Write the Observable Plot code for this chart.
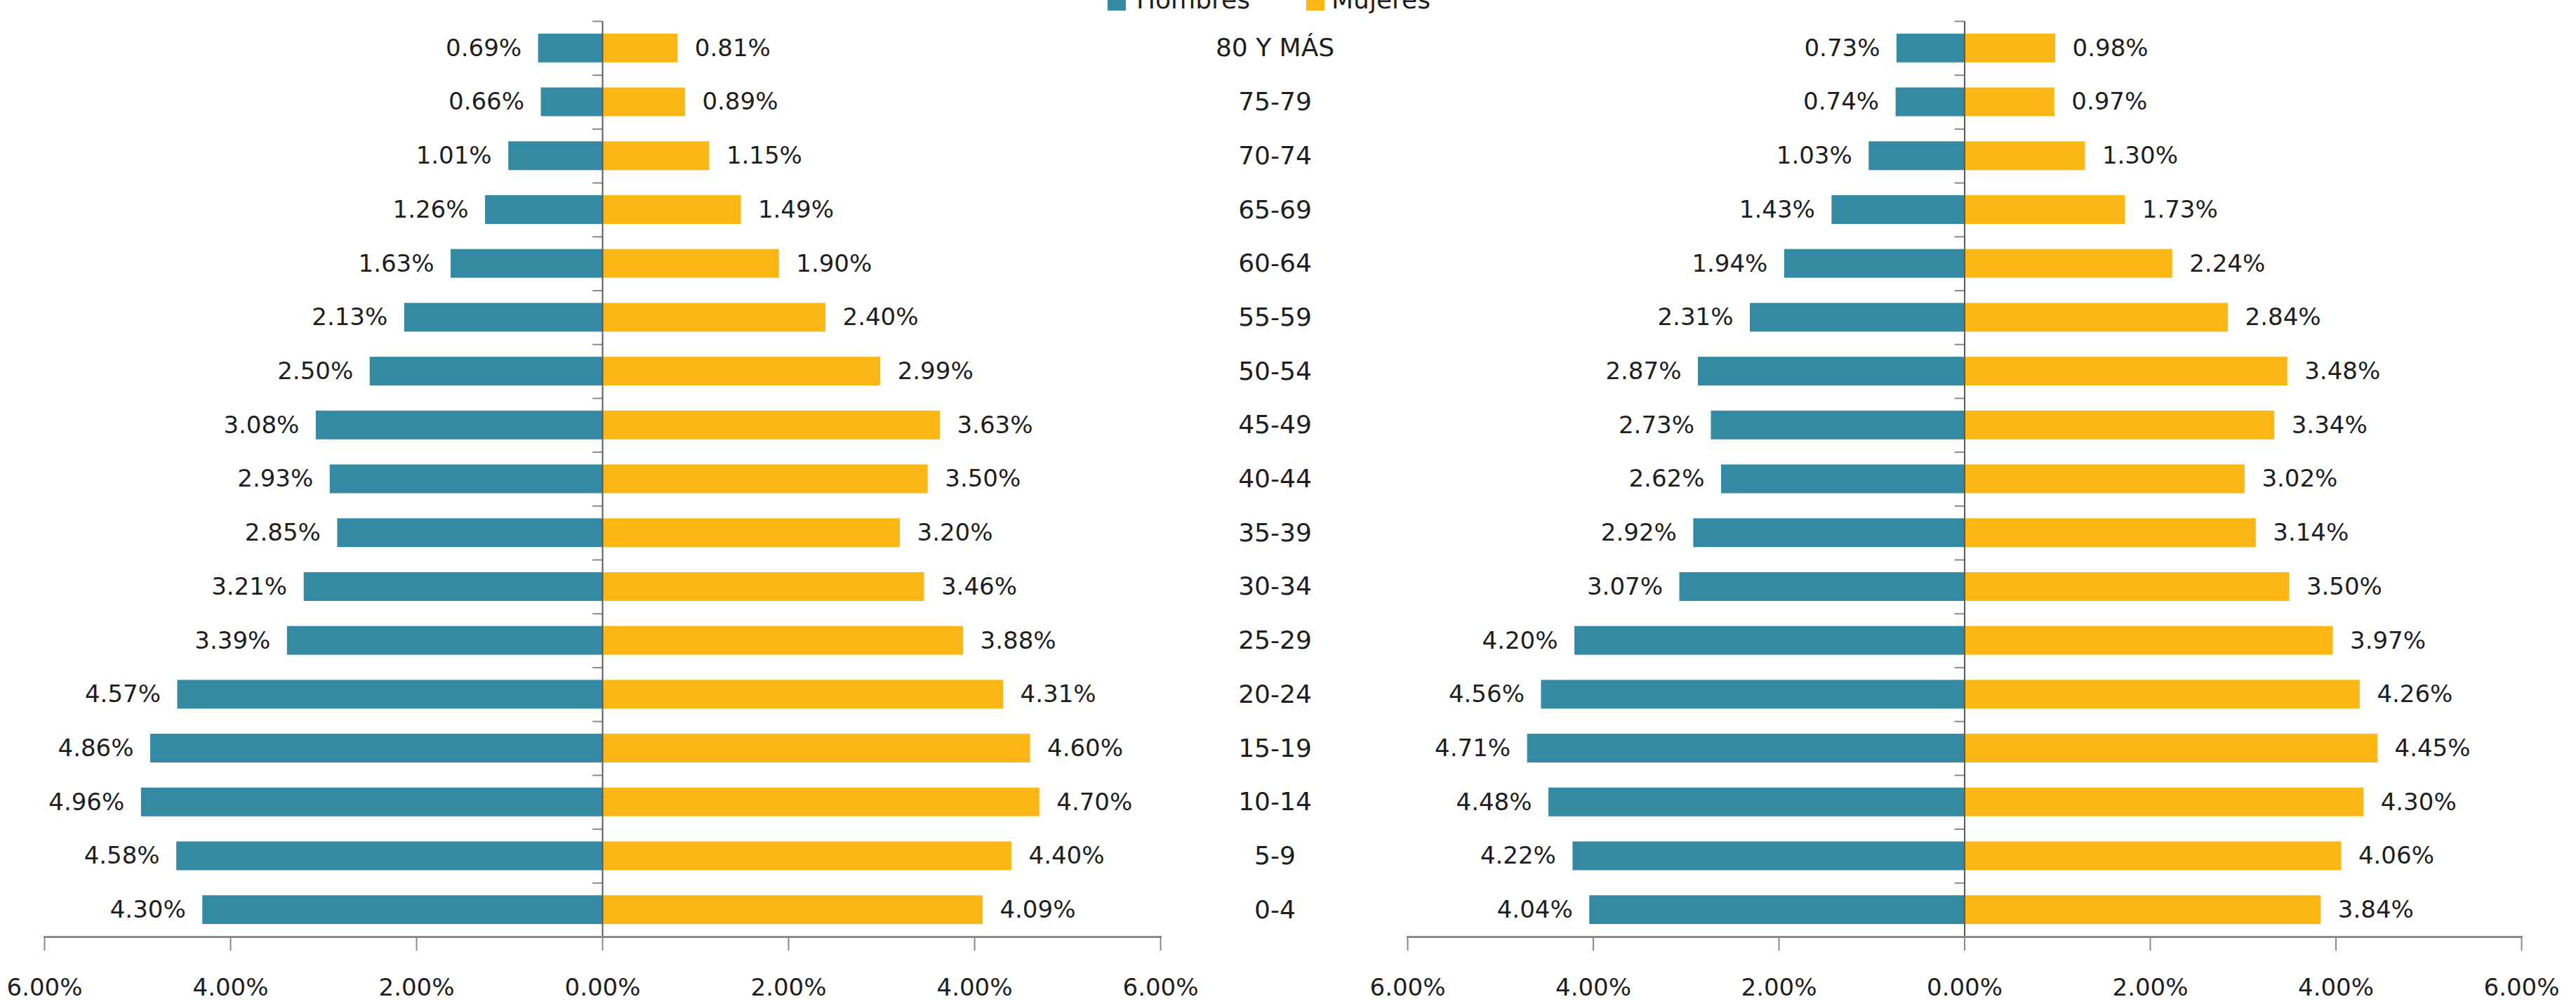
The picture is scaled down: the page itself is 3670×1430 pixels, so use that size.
<!DOCTYPE html>
<html>
<head>
<meta charset="utf-8">
<script src="https://cdn.jsdelivr.net/npm/d3@7"></script>
<script src="https://cdn.jsdelivr.net/npm/@observablehq/plot@0.6"></script>
<style>
  html, body { margin: 0; padding: 0; background: #ffffff; }
  #wrap { position: relative; width: 3670px; height: 1430px; overflow: hidden; background: #ffffff;
          font-family: "DejaVu Sans", sans-serif; color: #1e1e1e; }
  #wrap svg { position: absolute; top: 0; overflow: visible; max-width: none; }
  .lg-swatch { position: absolute; width: 26px; height: 26px; top: -11px; }
  .lg-label { position: absolute; top: -18px; font-size: 36px; line-height: 36px; white-space: nowrap; color: #1e1e1e; }
</style>
</head>
<body>
<div id="wrap"></div>
<script>
// ---- data ----
const ageGroups = ["80 Y MÁS", "75-79", "70-74", "65-69", "60-64", "55-59", "50-54", "45-49",
                   "40-44", "35-39", "30-34", "25-29", "20-24", "15-19", "10-14", "5-9", "0-4"];
const hombresIzq = [0.69, 0.66, 1.01, 1.26, 1.63, 2.13, 2.50, 3.08, 2.93, 2.85, 3.21, 3.39, 4.57, 4.86, 4.96, 4.58, 4.30];
const mujeresIzq = [0.81, 0.89, 1.15, 1.49, 1.90, 2.40, 2.99, 3.63, 3.50, 3.20, 3.46, 3.88, 4.31, 4.60, 4.70, 4.40, 4.09];
const hombresDer = [0.73, 0.74, 1.03, 1.43, 1.94, 2.31, 2.87, 2.73, 2.62, 2.92, 3.07, 4.20, 4.56, 4.71, 4.48, 4.22, 4.04];
const mujeresDer = [0.98, 0.97, 1.30, 1.73, 2.24, 2.84, 3.48, 3.34, 3.02, 3.14, 3.50, 3.97, 4.26, 4.45, 4.30, 4.06, 3.84];
const xTicks = [-6, -4, -2, 0, 2, 4, 6];
const seriesNames = ["Hombres", "Mujeres"];
const seriesColors = ["#358aa3", "#fdb714"];

const fmtPct = v => Math.abs(v).toFixed(2) + "%";

function pyramid({hombres, mujeres, width, marginLeft, marginRight, showCategories}) {
  const rows = ageGroups.flatMap((age, i) => [
    {age, sex: "Hombres", value: -hombres[i]},
    {age, sex: "Mujeres", value: mujeres[i]}
  ]);
  const marks = [
    Plot.barX(rows, {y: "age", x: "value", fill: "sex"}),
    Plot.ruleY(ageGroups, {y: d => d, x1: -0.105, x2: 0, dy: -38.4, stroke: "#8a8a8a", strokeWidth: 2}),
    Plot.ruleX([0], {stroke: "#5a5a5a", strokeWidth: 2}),
    Plot.frame({anchor: "bottom", stroke: "#8a8a8a", strokeWidth: 3}),
    Plot.axisX({ticks: xTicks, tickSize: 20, text: null, label: null, stroke: "#8a8a8a", strokeWidth: 2}),
    Plot.axisX({ticks: xTicks, tickSize: 0, tickPadding: 59, tickFormat: fmtPct, label: null, fontSize: 34, fill: "#1e1e1e"}),
    Plot.text(rows.filter(d => d.sex === "Hombres"), {y: "age", x: "value", text: d => fmtPct(d.value),
      textAnchor: "end", dx: -24, fontSize: 34, fill: "#1e1e1e"}),
    Plot.text(rows.filter(d => d.sex === "Mujeres"), {y: "age", x: "value", text: d => fmtPct(d.value),
      textAnchor: "start", dx: 24, fontSize: 34, fill: "#1e1e1e"})
  ];
  if (showCategories) {
    marks.push(Plot.text(ageGroups, {y: d => d, text: d => d, frameAnchor: "right", dx: 163,
      textAnchor: "middle", fontSize: 36, fill: "#1e1e1e"}));
  }
  return Plot.plot({
    width, height: 1430,
    marginLeft, marginRight, marginTop: 30, marginBottom: 96,
    style: {fontFamily: "DejaVu Sans, sans-serif", background: "transparent", overflow: "visible"},
    x: {domain: [-6, 6], axis: null, label: null},
    y: {domain: ageGroups, paddingInner: 0.466, paddingOuter: 0.233, round: false, axis: null, label: null},
    color: {domain: seriesNames, range: seriesColors},
    marks
  });
}

const wrap = document.getElementById("wrap");

const left = pyramid({hombres: hombresIzq, mujeres: mujeresIzq, width: 1950, marginLeft: 63, marginRight: 297, showCategories: true});
left.style.left = "0px";
wrap.appendChild(left);

const right = pyramid({hombres: hombresDer, mujeres: mujeresDer, width: 1720, marginLeft: 55, marginRight: 78, showCategories: false});
right.style.left = "1950px";
wrap.appendChild(right);

// legend (partially cut at the top, as in the original)
const legendPos = [{sw: 1578, tx: 1619}, {sw: 1861, tx: 1897}];
seriesNames.forEach((name, i) => {
  const sw = document.createElement("div");
  sw.className = "lg-swatch";
  sw.style.left = legendPos[i].sw + "px";
  sw.style.background = seriesColors[i];
  wrap.appendChild(sw);
  const lb = document.createElement("div");
  lb.className = "lg-label";
  lb.style.left = legendPos[i].tx + "px";
  lb.textContent = name;
  wrap.appendChild(lb);
});
</script>
</body>
</html>
